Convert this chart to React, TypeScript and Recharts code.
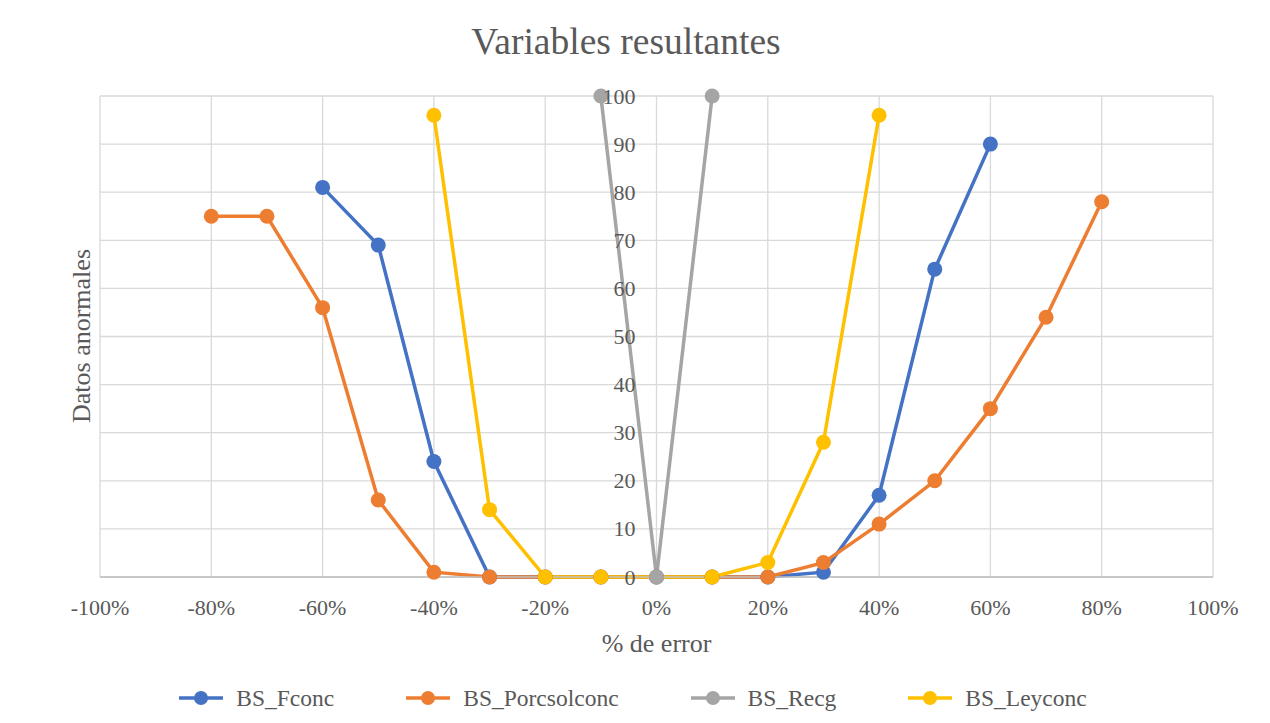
import {
  LineChart,
  Line,
  XAxis,
  YAxis,
  CartesianGrid,
} from "recharts";

// % de error values per series and the matching counts of anomalous data
const fconcX = [-60, -50, -40, -30, -20, -10, 0, 10, 20, 30, 40, 50, 60];
const fconcY = [81, 69, 24, 0, 0, 0, 0, 0, 0, 1, 17, 64, 90];

const porcsolX = [-80, -70, -60, -50, -40, -30, -20, -10, 0, 10, 20, 30, 40, 50, 60, 70, 80];
const porcsolY = [75, 75, 56, 16, 1, 0, 0, 0, 0, 0, 0, 3, 11, 20, 35, 54, 78];

const recgX = [-10, 0, 10];
const recgY = [100, 0, 100];

const leyX = [-40, -30, -20, -10, 10, 20, 30, 40];
const leyY = [96, 14, 0, 0, 0, 3, 28, 96];

const xTicks = [-100, -80, -60, -40, -20, 0, 20, 40, 60, 80, 100];
const yTicks = [0, 10, 20, 30, 40, 50, 60, 70, 80, 90, 100];

const toPoints = (xs: number[], ys: number[]) => xs.map((x, i) => ({ x, y: ys[i] }));

const series = [
  { name: "BS_Fconc", color: "#4472C4", data: toPoints(fconcX, fconcY) },
  { name: "BS_Porcsolconc", color: "#ED7D31", data: toPoints(porcsolX, porcsolY) },
  { name: "BS_Recg", color: "#A5A5A5", data: toPoints(recgX, recgY) },
  { name: "BS_Leyconc", color: "#FFC000", data: toPoints(leyX, leyY) },
];

// grey series goes on top so its marker at 0 sits above the yellow line
const drawOrder = [0, 1, 3, 2];

const W = 1260;
const H = 716;
const Y_AXIS_W = 40;
const PLOT_LEFT = 92;
const PLOT_RIGHT = 1205;
const M = { top: 89, right: W - PLOT_RIGHT, bottom: 116, left: PLOT_LEFT - Y_AXIS_W };
const CENTER_X = (PLOT_LEFT + PLOT_RIGHT) / 2;
const FONT = '"Liberation Serif", "Times New Roman", serif';
const TEXT = "#595959";

// value labels sit next to the vertical axis drawn at 0%
const CenterTick = (props: any) => {
  const { y, payload } = props;
  return (
    <text
      x={CENTER_X - 21}
      y={y}
      textAnchor="end"
      dominantBaseline="central"
      fill={TEXT}
      fontSize={22}
      fontFamily={FONT}
    >
      {payload.value}
    </text>
  );
};

export default function App() {
  return (
    <div
      style={{
        position: "relative",
        width: 1262,
        height: 718,
        margin: "-2px 0 0 -1px",
        border: "1px solid #d9d9d9",
        boxSizing: "border-box",
        background: "#fff",
        fontFamily: FONT,
        color: TEXT,
      }}
    >
      <div
        style={{
          position: "absolute",
          top: 15,
          left: -12,
          width: W,
          textAlign: "center",
          fontSize: 37.5,
          lineHeight: "40px",
        }}
      >
        Variables resultantes
      </div>

      <LineChart width={W} height={H} margin={M}>
        <CartesianGrid stroke="#d9d9d9" strokeWidth={1.3} />
        <XAxis
          type="number"
          dataKey="x"
          domain={[-100, 100]}
          ticks={xTicks}
          tickFormatter={(v: number) => `${v}%`}
          axisLine={{ stroke: "#bfbfbf", strokeWidth: 1.5 }}
          tickLine={false}
          tickSize={0}
          tickMargin={22}
          tick={{ fill: TEXT, fontSize: 22, fontFamily: FONT }}
          height={30}
        />
        <YAxis
          type="number"
          dataKey="y"
          domain={[0, 100]}
          ticks={yTicks}
          width={Y_AXIS_W}
          axisLine={false}
          tickLine={false}
          tick={<CenterTick />}
        />
        {drawOrder.map((i) => {
          const s = series[i];
          return (
            <Line
              key={s.name}
              data={s.data}
              dataKey="y"
              name={s.name}
              stroke={s.color}
              strokeWidth={3.5}
              dot={{ r: 7.5, fill: s.color, stroke: s.color, strokeWidth: 0 }}
              activeDot={false}
              isAnimationActive={false}
            />
          );
        })}
      </LineChart>

      <div
        style={{
          position: "absolute",
          top: 623,
          left: CENTER_X - 200,
          width: 400,
          textAlign: "center",
          fontSize: 26,
          lineHeight: "28px",
        }}
      >
        % de error
      </div>

      <div
        style={{
          position: "absolute",
          left: 74,
          top: 329,
          transform: "translate(-50%, -50%) rotate(-90deg)",
          fontSize: 26,
          lineHeight: "28px",
          whiteSpace: "nowrap",
        }}
      >
        Datos anormales
      </div>

      <div
        style={{
          position: "absolute",
          top: 677,
          left: -5,
          width: W,
          display: "flex",
          justifyContent: "center",
          gap: 72,
          fontSize: 23.5,
          lineHeight: "28px",
        }}
      >
        {series.map((s) => (
          <div key={s.name} style={{ display: "flex", alignItems: "center" }}>
            <svg width={44} height={16} style={{ marginRight: 13 }}>
              <line x1={0} y1={8} x2={44} y2={8} stroke={s.color} strokeWidth={3.5} />
              <circle cx={22} cy={8} r={7} fill={s.color} />
            </svg>
            <span>{s.name}</span>
          </div>
        ))}
      </div>
    </div>
  );
}
